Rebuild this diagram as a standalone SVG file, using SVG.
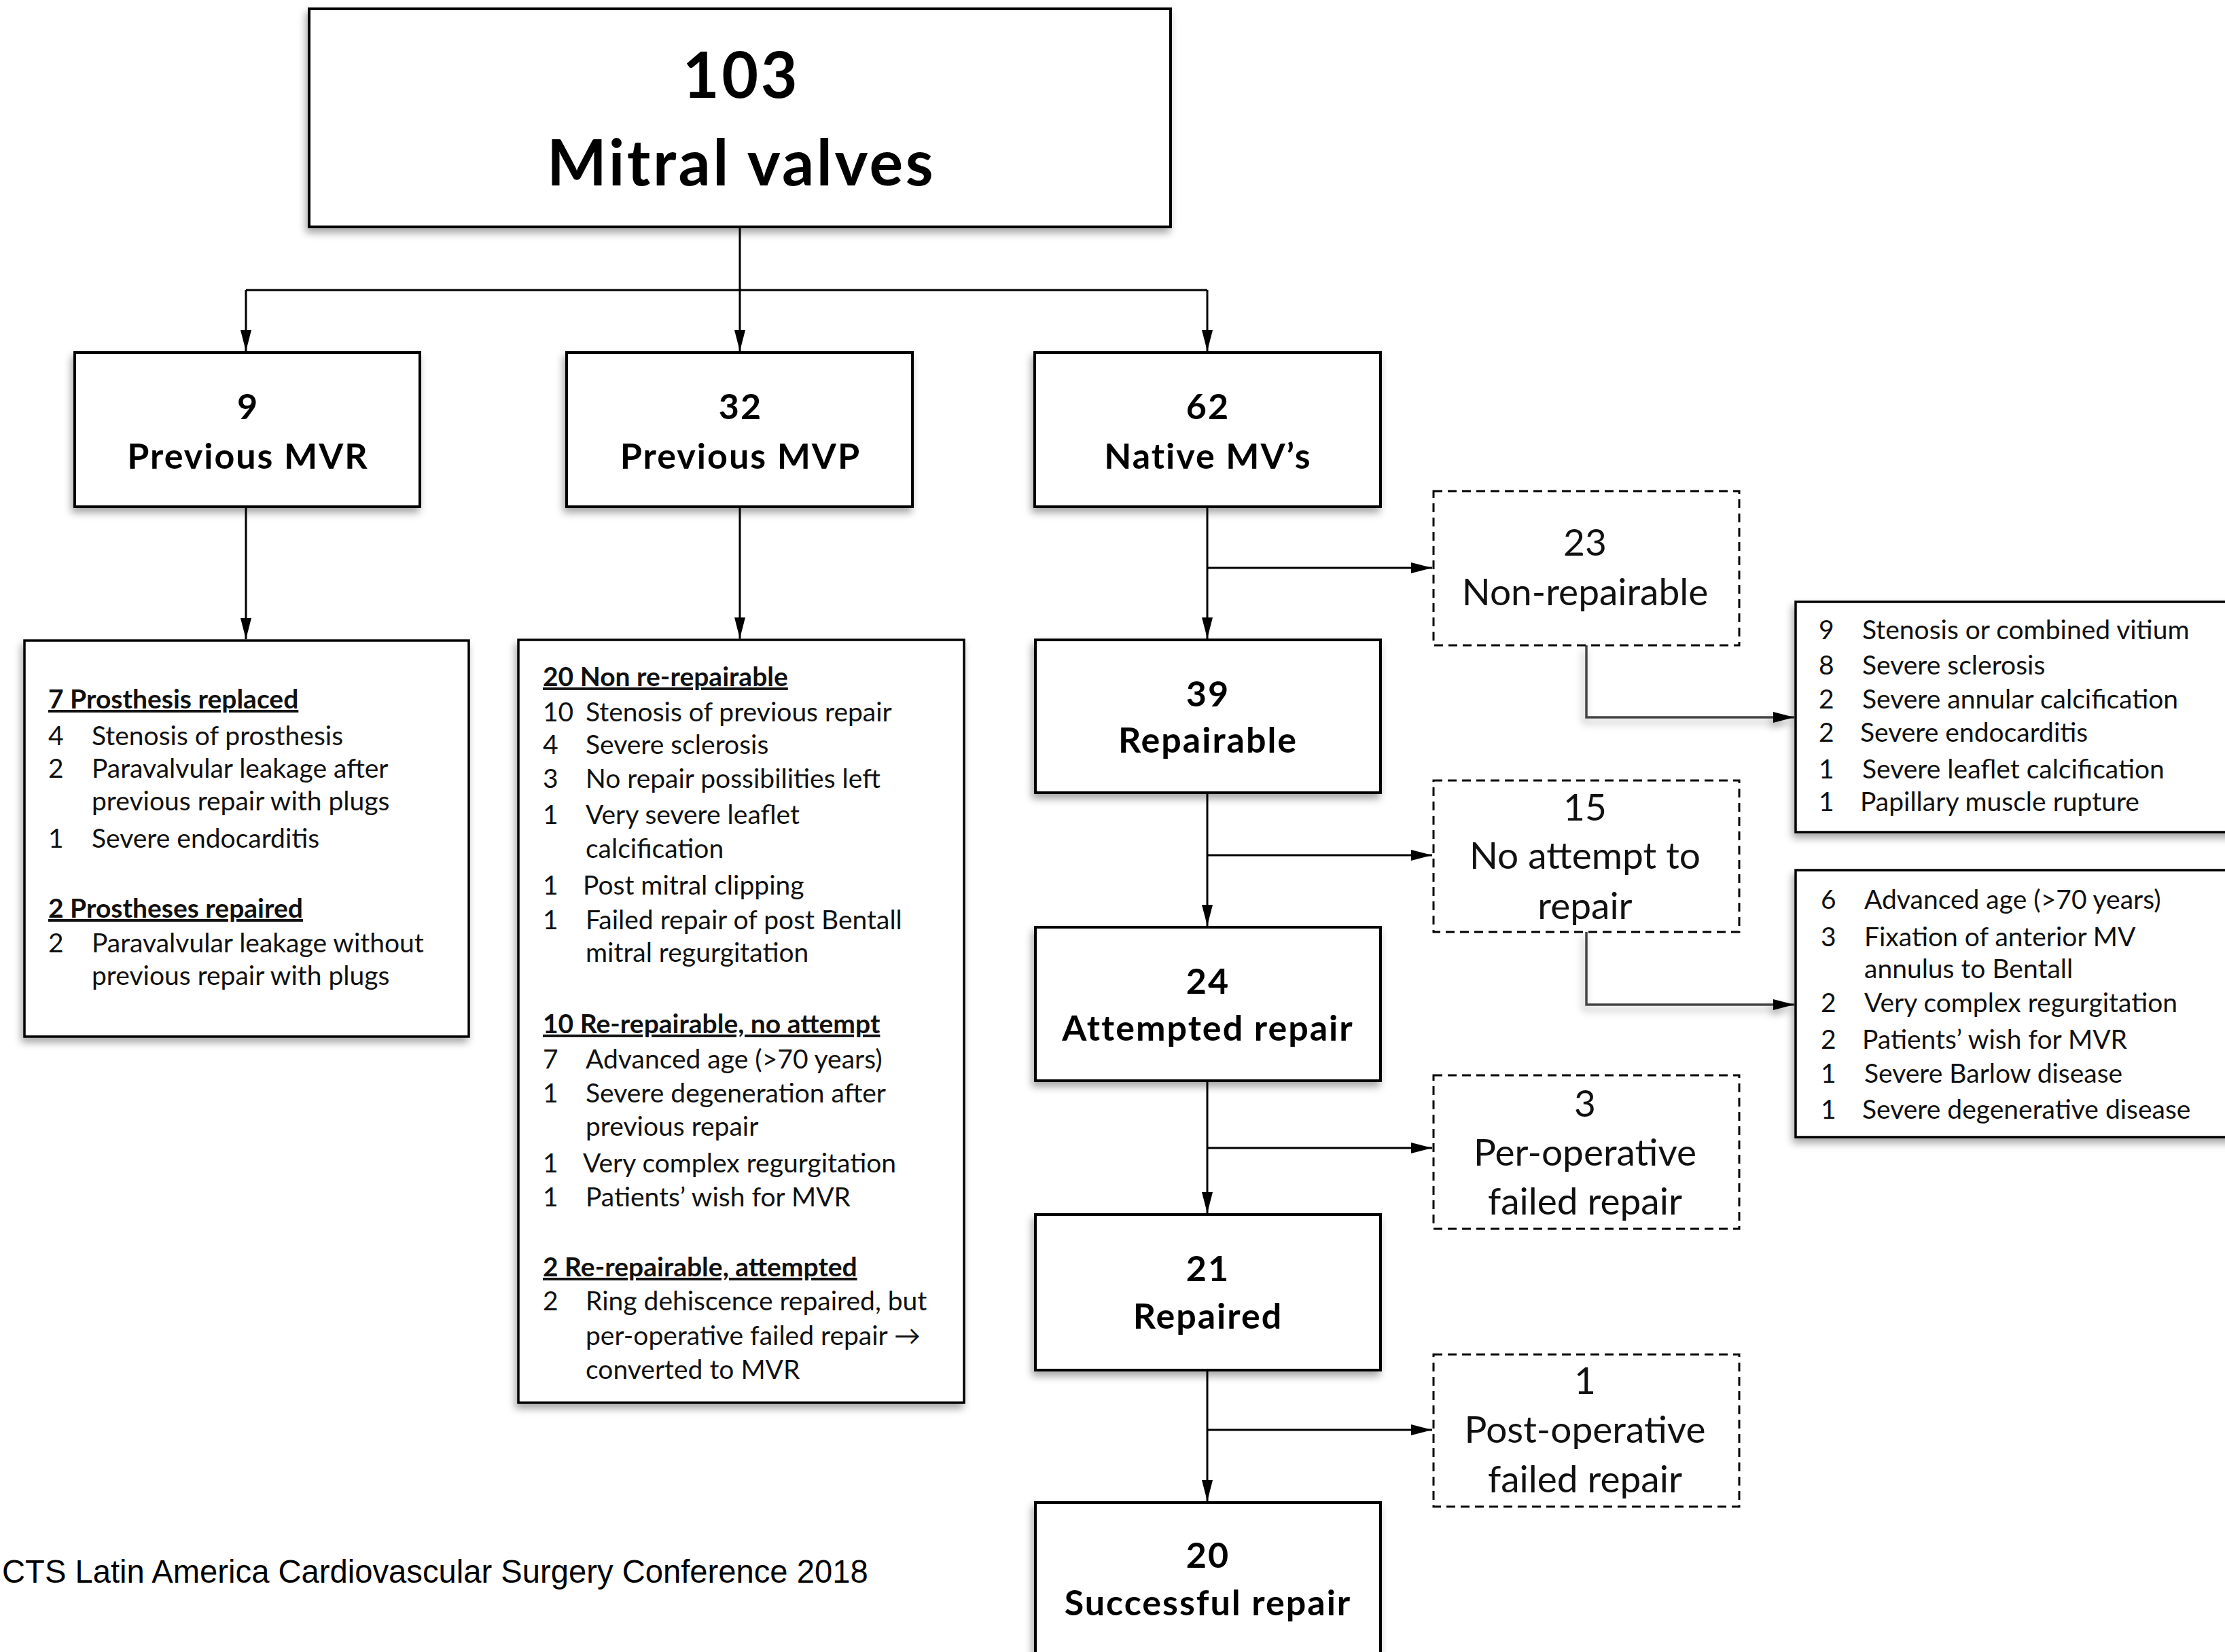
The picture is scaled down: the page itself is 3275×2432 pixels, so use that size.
<svg xmlns="http://www.w3.org/2000/svg" width="3275" height="2432" viewBox="0 0 3275 2432">
<defs>
<style>
.box{fill:#fff;stroke:#000;stroke-width:4}
.dbox{fill:#fff;stroke:#000;stroke-width:3;stroke-dasharray:13 8}
.lst{fill:#fff;stroke:#000;stroke-width:3.5}
.c{fill:none;stroke:#000;stroke-width:3}
.cg{fill:none;stroke:#444;stroke-width:3.5}
.big{font-family:Lato,"Liberation Sans",sans-serif;font-weight:bold;font-size:93px;letter-spacing:3.5px;text-anchor:middle;fill:#000}
.nb{font-family:Lato,"Liberation Sans",sans-serif;font-weight:bold;font-size:52px;letter-spacing:2px;text-anchor:middle;fill:#000}
.dn{font-family:Lato,"Liberation Sans",sans-serif;font-size:55px;text-anchor:middle;fill:#111}
.li{font-family:Lato,"Liberation Sans",sans-serif;font-size:39px;fill:#111}
.lh{font-family:Lato,"Liberation Sans",sans-serif;font-size:39px;font-weight:bold;text-decoration:underline;fill:#111}
.ft{font-family:"Liberation Sans",Arial,sans-serif;font-size:47.2px;fill:#000}
</style>
<filter id="sh" x="-10%" y="-10%" width="125%" height="130%">
<feDropShadow dx="-3" dy="7" stdDeviation="6" flood-color="#000" flood-opacity="0.35"/>
</filter>
<marker id="ah" markerWidth="32" markerHeight="18" refX="31" refY="9" orient="auto" markerUnits="userSpaceOnUse">
<path d="M0,1 L31,9 L0,17 Z" fill="#000"/>
</marker>
</defs>
<rect width="3275" height="2432" fill="#fff"/>

<g id="connectors">
<path class="c" d="M1089,334 V427"/>
<path class="c" d="M362,427 H1777"/>
<path class="c" d="M362,427 V517" marker-end="url(#ah)"/>
<path class="c" d="M1089,427 V517" marker-end="url(#ah)"/>
<path class="c" d="M1777,427 V517" marker-end="url(#ah)"/>
<path class="c" d="M362,746 V941" marker-end="url(#ah)"/>
<path class="c" d="M1089,746 V940" marker-end="url(#ah)"/>
<path class="c" d="M1777,746 V940" marker-end="url(#ah)"/>
<path class="c" d="M1777,836 H2108" marker-end="url(#ah)"/>
<path class="c" d="M1777,1167 V1363" marker-end="url(#ah)"/>
<path class="c" d="M1777,1259 H2108" marker-end="url(#ah)"/>
<path class="c" d="M1777,1591 V1786" marker-end="url(#ah)"/>
<path class="c" d="M1777,1690 H2108" marker-end="url(#ah)"/>
<path class="c" d="M1777,2017 V2210" marker-end="url(#ah)"/>
<path class="c" d="M1777,2105 H2108" marker-end="url(#ah)"/>
<g filter="url(#sh)">
<path class="cg" d="M2335,950 V1056 H2641" marker-end="url(#ah)"/>
<path class="cg" d="M2335,1372 V1479 H2641" marker-end="url(#ah)"/>
</g>
</g>

<g id="n-top">
<rect class="box" x="455" y="13" width="1268" height="321" filter="url(#sh)"/>
<text class="big" x="1091" y="144">103</text>
<text class="big" x="1091" y="273">Mitral valves</text>
</g>

<g id="n-mvr">
<rect class="box" x="110" y="519" width="508" height="227" filter="url(#sh)"/>
<text class="nb" x="365" y="617">9</text>
<text class="nb" x="365" y="690">Previous MVR</text>
</g>

<g id="n-mvp">
<rect class="box" x="834" y="519" width="509" height="227" filter="url(#sh)"/>
<text class="nb" x="1090" y="617">32</text>
<text class="nb" x="1090" y="690">Previous MVP</text>
</g>

<g id="n-native">
<rect class="box" x="1523" y="519" width="509" height="227" filter="url(#sh)"/>
<text class="nb" x="1778" y="617">62</text>
<text class="nb" x="1778" y="690">Native MV’s</text>
</g>

<g id="n-repairable">
<rect class="box" x="1524" y="942" width="508" height="225" filter="url(#sh)"/>
<text class="nb" x="1778" y="1040">39</text>
<text class="nb" x="1778" y="1108">Repairable</text>
</g>

<g id="n-attempted">
<rect class="box" x="1524" y="1365" width="508" height="226" filter="url(#sh)"/>
<text class="nb" x="1778" y="1463">24</text>
<text class="nb" x="1778" y="1532">Attempted repair</text>
</g>

<g id="n-repaired">
<rect class="box" x="1524" y="1788" width="508" height="229" filter="url(#sh)"/>
<text class="nb" x="1778" y="1886">21</text>
<text class="nb" x="1778" y="1956">Repaired</text>
</g>

<g id="n-successful">
<rect class="box" x="1524" y="2212" width="508" height="240" filter="url(#sh)"/>
<text class="nb" x="1778" y="2308">20</text>
<text class="nb" x="1778" y="2378">Successful repair</text>
</g>

<g id="n-nonrep">
<rect class="dbox" x="2110" y="723" width="450" height="227"/>
<text class="dn" x="2333" y="818">23</text>
<text class="dn" x="2333" y="891">Non-repairable</text>
</g>

<g id="n-noattempt">
<rect class="dbox" x="2110" y="1149" width="450" height="223"/>
<text class="dn" x="2333" y="1208">15</text>
<text class="dn" x="2333" y="1279">No attempt to</text>
<text class="dn" x="2333" y="1353">repair</text>
</g>

<g id="n-perop">
<rect class="dbox" x="2110" y="1583" width="450" height="226"/>
<text class="dn" x="2333" y="1644">3</text>
<text class="dn" x="2333" y="1716">Per-operative</text>
<text class="dn" x="2333" y="1788">failed repair</text>
</g>

<g id="n-postop">
<rect class="dbox" x="2110" y="1994" width="450" height="224"/>
<text class="dn" x="2333" y="2052">1</text>
<text class="dn" x="2333" y="2124">Post-operative</text>
<text class="dn" x="2333" y="2197">failed repair</text>
</g>

<g id="n-mvr-list">
<rect class="lst" x="36" y="943" width="654" height="583" filter="url(#sh)"/>
<text class="lh" x="71" y="1043">7  Prosthesis replaced</text>
<text class="li" y="1097"><tspan x="71">4</tspan><tspan x="135">Stenosis of prosthesis</tspan></text>
<text class="li" y="1145"><tspan x="71">2</tspan><tspan x="135">Paravalvular leakage after</tspan></text>
<text class="li" x="135" y="1193">previous repair with plugs</text>
<text class="li" y="1248"><tspan x="71">1</tspan><tspan x="135">Severe endocarditis</tspan></text>
<text class="lh" x="71" y="1351">2  Prostheses repaired</text>
<text class="li" y="1402"><tspan x="71">2</tspan><tspan x="135">Paravalvular leakage without</tspan></text>
<text class="li" x="135" y="1450">previous repair with plugs</text>
</g>

<g id="n-mvp-list">
<rect class="lst" x="763" y="942" width="656" height="1123" filter="url(#sh)"/>
<text class="lh" x="799" y="1010">20  Non re-repairable</text>
<text class="li" y="1062"><tspan x="799">10</tspan><tspan x="862">Stenosis of previous repair</tspan></text>
<text class="li" y="1110"><tspan x="799">4</tspan><tspan x="862">Severe sclerosis</tspan></text>
<text class="li" y="1160"><tspan x="799">3</tspan><tspan x="862">No repair possibilities left</tspan></text>
<text class="li" y="1213"><tspan x="799">1</tspan><tspan x="862">Very severe leaflet</tspan></text>
<text class="li" x="862" y="1263">calcification</text>
<text class="li" y="1317"><tspan x="799">1</tspan><tspan x="858">Post mitral clipping</tspan></text>
<text class="li" y="1368"><tspan x="799">1</tspan><tspan x="862">Failed repair of post Bentall</tspan></text>
<text class="li" x="862" y="1416">mitral regurgitation</text>
<text class="lh" x="799" y="1521">10  Re-repairable, no attempt</text>
<text class="li" y="1573"><tspan x="799">7</tspan><tspan x="862">Advanced age (&gt;70 years)</tspan></text>
<text class="li" y="1623"><tspan x="799">1</tspan><tspan x="862">Severe degeneration after</tspan></text>
<text class="li" x="862" y="1672">previous repair</text>
<text class="li" y="1726"><tspan x="799">1</tspan><tspan x="858">Very complex regurgitation</tspan></text>
<text class="li" y="1776"><tspan x="799">1</tspan><tspan x="862">Patients’ wish for MVR</tspan></text>
<text class="lh" x="799" y="1879">2   Re-repairable, attempted</text>
<text class="li" y="1929"><tspan x="799">2</tspan><tspan x="862">Ring dehiscence repaired, but</tspan></text>
<text class="li" x="862" y="1980">per-operative failed repair →</text>
<text class="li" x="862" y="2030">converted to MVR</text>
</g>

<g id="n-nonrep-list">
<rect class="lst" x="2643" y="886" width="660" height="339" filter="url(#sh)"/>
<text class="li" y="941"><tspan x="2677">9</tspan><tspan x="2741">Stenosis or combined vitium</tspan></text>
<text class="li" y="993"><tspan x="2677">8</tspan><tspan x="2741">Severe sclerosis</tspan></text>
<text class="li" y="1043"><tspan x="2677">2</tspan><tspan x="2741">Severe annular calcification</tspan></text>
<text class="li" y="1092"><tspan x="2677">2</tspan><tspan x="2738">Severe endocarditis</tspan></text>
<text class="li" y="1146"><tspan x="2677">1</tspan><tspan x="2741">Severe leaflet calcification</tspan></text>
<text class="li" y="1194"><tspan x="2677">1</tspan><tspan x="2738">Papillary muscle rupture</tspan></text>
</g>

<g id="n-noattempt-list">
<rect class="lst" x="2643" y="1281" width="660" height="393" filter="url(#sh)"/>
<text class="li" y="1338"><tspan x="2680">6</tspan><tspan x="2744">Advanced age (&gt;70 years)</tspan></text>
<text class="li" y="1393"><tspan x="2680">3</tspan><tspan x="2744">Fixation of anterior MV</tspan></text>
<text class="li" x="2744" y="1440">annulus to Bentall</text>
<text class="li" y="1490"><tspan x="2680">2</tspan><tspan x="2744">Very complex regurgitation</tspan></text>
<text class="li" y="1544"><tspan x="2680">2</tspan><tspan x="2741">Patients’ wish for MVR</tspan></text>
<text class="li" y="1594"><tspan x="2680">1</tspan><tspan x="2744">Severe Barlow disease</tspan></text>
<text class="li" y="1647"><tspan x="2680">1</tspan><tspan x="2741">Severe degenerative disease</tspan></text>
</g>

<text class="ft" x="3" y="2330">CTS Latin America Cardiovascular Surgery Conference 2018</text>
</svg>
